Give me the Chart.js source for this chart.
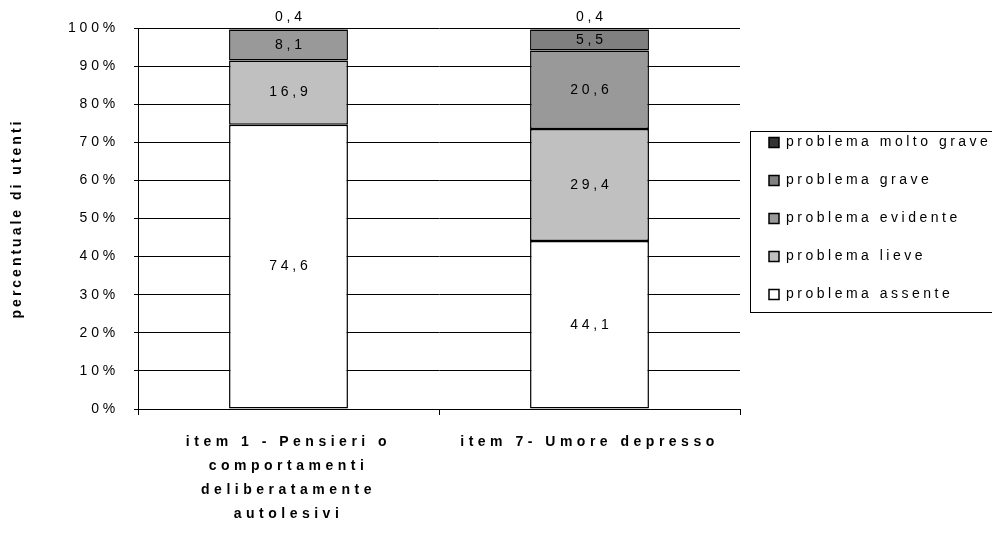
<!DOCTYPE html>
<html>
<head>
<meta charset="utf-8">
<script src="https://cdn.jsdelivr.net/npm/chart.js@4/dist/chart.umd.min.js"></script>
<style>
  html, body { margin: 0; padding: 0; background: #fff; }
</style>
</head>
<body>
<canvas id="c" width="992" height="542"></canvas>
<script>
// Categories (multi-line x labels) and the share of users per severity level
const categories = [
  ['item 1 - Pensieri o', 'comportamenti', 'deliberatamente', 'autolesivi'],
  'item 7- Umore depresso'
];
const seriesNames = ['problema assente', 'problema lieve', 'problema evidente', 'problema grave', 'problema molto grave'];
const assente    = [74.6, 44.1];
const lieve      = [16.9, 29.4];
const evidente   = [8.1, 20.6];
const grave      = [0, 5.5];
const moltoGrave = [0.4, 0.4];
const yTicks = [0, 10, 20, 30, 40, 50, 60, 70, 80, 90, 100];

const fills = ['#ffffff', '#c0c0c0', '#999999', '#808080', '#333333'];
const values = [assente, lieve, evidente, grave, moltoGrave];
const FONT = "'Liberation Sans', Arial, sans-serif";
const SPACING = 3.8;       // default letter spacing (px)
const X_SPACING = 4.5;     // category labels
const TITLE_SPACING = 3;   // y axis title
const LEGEND_SPACING = 3.5;
const LEGEND_WIDTH = 252;  // room kept for the legend on the right
const LEGEND_SHIFT = 5;    // legend entries sit a little inside their frame

const fmt = v => v.toFixed(1).replace('.', ',');

// Wrap a method of a layout box so that it runs with its own letter spacing
function withSpacing(obj, method, px, extra) {
  if (!obj || obj['_sp_' + method]) return;
  const orig = obj[method];
  obj[method] = function (...args) {
    const c = this.ctx;
    c.save();
    c.letterSpacing = px + 'px';
    if (extra && extra.before) extra.before.call(this, c);
    const r = orig.apply(this, args);
    c.restore();
    if (extra && extra.after) extra.after.call(this, c);
    return r;
  };
  obj['_sp_' + method] = true;
}

const spacingPlugin = {
  id: 'spacing',
  beforeLayout(chart) {
    chart.ctx.letterSpacing = SPACING + 'px';
    withSpacing(chart.legend, 'fit', LEGEND_SPACING, {
      after() { this.width = LEGEND_WIDTH; }
    });
    withSpacing(chart.legend, 'draw', LEGEND_SPACING, {
      before(c) { c.translate(LEGEND_SHIFT, 0); }
    });
  },
  afterLayout(chart) {
    withSpacing(chart.scales.x, 'drawLabels', X_SPACING);
    withSpacing(chart.scales.y, 'drawTitle', TITLE_SPACING);
  },
  beforeDraw(chart) {
    const ctx = chart.ctx;
    ctx.letterSpacing = SPACING + 'px';
    ctx.save();
    ctx.fillStyle = '#ffffff';
    ctx.fillRect(0, 0, chart.width, chart.height);
    ctx.restore();
  }
};

// Value labels inside each segment (tiny segments get theirs above the bar)
const valueLabels = {
  id: 'valueLabels',
  afterDatasetsDraw(chart) {
    const ctx = chart.ctx;
    ctx.save();
    ctx.letterSpacing = SPACING + 'px';
    ctx.font = '14px ' + FONT;
    ctx.fillStyle = '#000';
    ctx.textAlign = 'center';
    ctx.textBaseline = 'middle';
    chart.data.datasets.forEach((ds, di) => {
      const meta = chart.getDatasetMeta(di);
      meta.data.forEach((bar, i) => {
        const v = ds.data[i];
        if (!v) return;
        const txt = fmt(v);
        const x = bar.x + SPACING / 2;
        if (v < 2) {
          ctx.fillText(txt, x, bar.y - 11);
        } else {
          ctx.fillText(txt, x, (bar.y + bar.base) / 2);
        }
      });
    });
    ctx.restore();
  }
};

// Frame around the legend
const legendFrame = {
  id: 'legendFrame',
  afterDraw(chart) {
    const lg = chart.legend;
    if (!lg || !lg.legendHitBoxes || !lg.legendHitBoxes.length) return;
    const hb = lg.legendHitBoxes;
    const first = hb[0], last = hb[hb.length - 1];
    const ctx = chart.ctx;
    ctx.save();
    ctx.strokeStyle = '#000';
    ctx.lineWidth = 1;
    const left = Math.round(first.left + LEGEND_SHIFT - 19) + 0.5;
    const top = Math.round(first.top - 5) + 0.5;
    const bottom = Math.round(last.top + last.height + 10) + 0.5;
    ctx.strokeRect(left, top, chart.width + 10 - left, bottom - top);
    ctx.restore();
  }
};

new Chart(document.getElementById('c'), {
  type: 'bar',
  data: {
    labels: categories,
    datasets: seriesNames.map((name, k) => ({
      label: name,
      data: values[k],
      backgroundColor: fills[k],
      borderColor: '#000',
      borderWidth: 1.5,
      borderSkipped: false,
      inflateAmount: 0,
      categoryPercentage: 1,
      barPercentage: 0.395
    }))
  },
  options: {
    responsive: false,
    animation: false,
    events: [],
    layout: { padding: { top: 28, left: 0, right: 0, bottom: 0 } },
    plugins: {
      legend: {
        position: 'right',
        fullSize: false,
        reverse: true,
        labels: {
          boxWidth: 10,
          boxHeight: 10,
          padding: 24,
          color: '#000',
          font: { family: FONT, size: 14 }
        }
      },
      tooltip: { enabled: false }
    },
    scales: {
      x: {
        stacked: true,
        offset: true,
        afterFit(scale) { scale.height = 133; },
        grid: {
          offset: true,
          drawOnChartArea: true,
          color: ctx => (ctx.index === categories.length ? '#000' : 'rgba(0,0,0,0)'),
          tickColor: '#000',
          tickLength: 6,
          lineWidth: 1
        },
        border: { display: true, color: '#000', width: 1 },
        ticks: {
          color: '#000',
          maxRotation: 0,
          autoSkip: false,
          padding: 15,
          font: { family: FONT, size: 14, weight: 'bold', lineHeight: 1.72 }
        }
      },
      y: {
        stacked: true,
        min: 0,
        max: 100,
        afterFit(scale) { scale.width = 138; },
        afterBuildTicks(scale) { scale.ticks = yTicks.map(v => ({ value: v })); },
        grid: {
          color: '#000',
          tickColor: '#000',
          tickLength: 4,
          lineWidth: 1
        },
        border: { display: true, color: '#000', width: 1 },
        ticks: {
          color: '#000',
          padding: 15,
          font: { family: FONT, size: 14 },
          callback: v => v + '%'
        },
        title: {
          display: true,
          text: 'percentuale di utenti',
          color: '#000',
          padding: { top: 9, bottom: 0 },
          font: { family: FONT, size: 14, weight: 'bold' }
        }
      }
    }
  },
  plugins: [spacingPlugin, valueLabels, legendFrame]
});
</script>
</body>
</html>
